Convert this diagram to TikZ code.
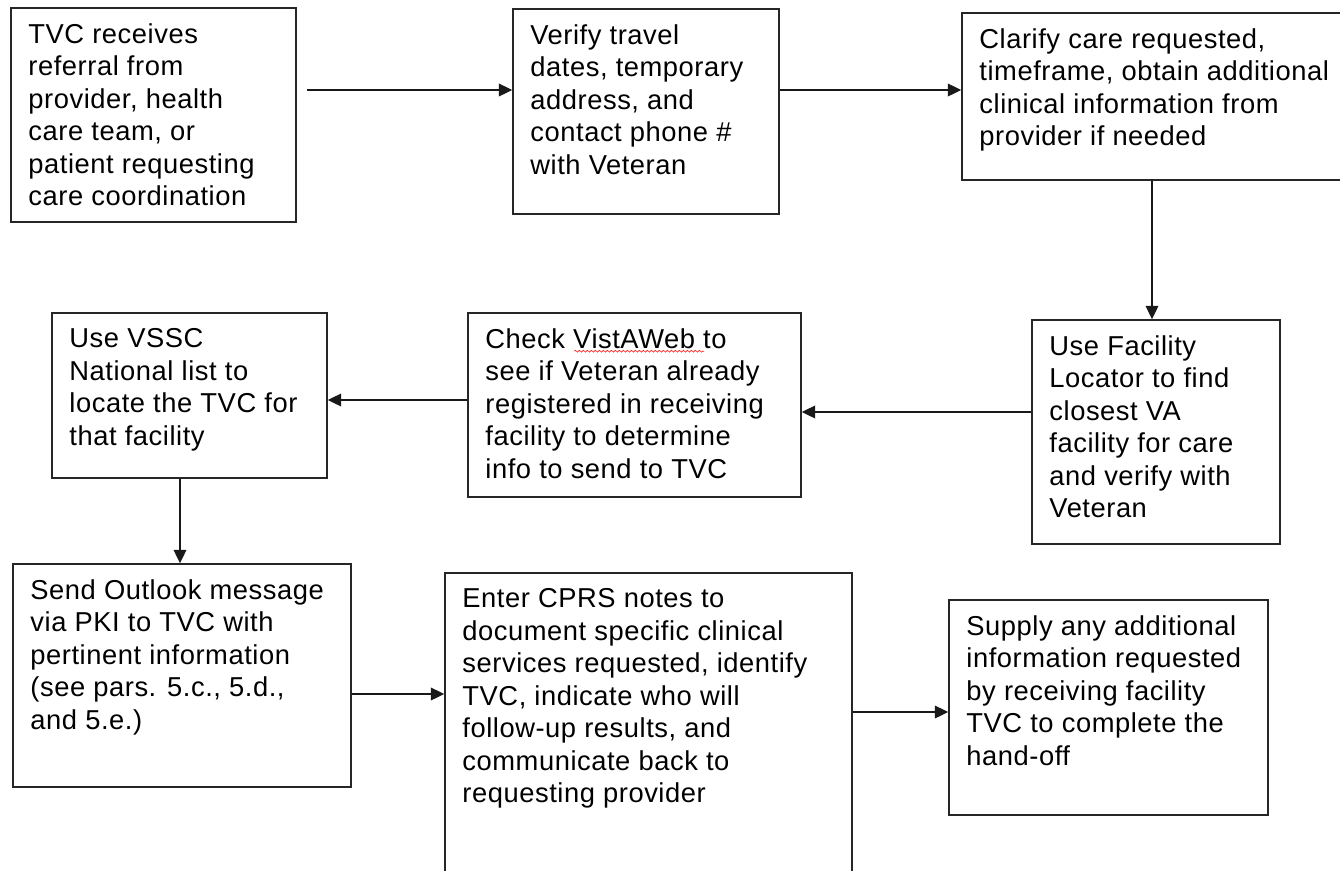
\documentclass[tikz,border=0pt]{standalone}
\usepackage{fontspec}
\setmainfont{Liberation Sans}[LetterSpace=2]
\usetikzlibrary{arrows.meta,calc,fit,decorations.pathmorphing}
\begin{document}
\begin{tikzpicture}[x=0.75pt,y=-0.75pt,
  box/.style={draw=black!85, line width=1.2pt, rectangle, inner sep=0pt},
  txt/.style={anchor=north west, inner sep=0pt, align=left, font=\fontsize{20.5}{24.4}\selectfont},
  arr/.style={draw=black!90, line width=1.1pt, -{Triangle[length=10pt,width=9.5pt]}}]
\clip (0,0) rectangle (1340,871);
\fill[white] (0,0) rectangle (1340,871);
% box corners
\coordinate (p1a) at (11,8);    \coordinate (p1b) at (296,222);
\coordinate (p2a) at (513,9);   \coordinate (p2b) at (779,214);
\coordinate (p3a) at (962,13);  \coordinate (p3b) at (1352,180);
\coordinate (p4a) at (1032,320);\coordinate (p4b) at (1280,544);
\coordinate (p5a) at (468,313); \coordinate (p5b) at (801,497);
\coordinate (p6a) at (52,313);  \coordinate (p6b) at (327,478);
\coordinate (p7a) at (13,564);  \coordinate (p7b) at (351,787);
\coordinate (p8a) at (445,573); \coordinate (p8b) at (852,885);
\coordinate (p9a) at (949,600); \coordinate (p9b) at (1268,815);
\foreach \i in {1,...,9} {\node[box, fit=(p\i a)(p\i b)] (b\i) {};}
% texts
\node[txt] (t1) at ($(b1.north west)+(18,16)$) {TVC receives\\referral from\\provider, health\\care team, or\\patient requesting\\care coordination};
\node[txt] (t2) at ($(b2.north west)+(18,16)$) {Verify travel\\dates, temporary\\address, and\\contact phone \#\\with Veteran};
\node[txt] (t3) at ($(b3.north west)+(18,16)$) {Clarify care requested,\\timeframe, obtain additional\\clinical information from\\provider if needed};
\node[txt] (t4) at ($(b4.north west)+(18,16)$) {Use Facility\\Locator to find\\closest VA\\facility for care\\and verify with\\Veteran};
\node[txt] (t5) at ($(b5.north west)+(18,16)$) {Check VistAWeb to\\see if Veteran already\\registered in receiving\\facility to determine\\info to send to TVC};
\node[txt] (t6) at ($(b6.north west)+(18,16)$) {Use VSSC\\National list to\\locate the TVC for\\that facility};
\node[txt] (t7) at ($(b7.north west)+(18,16)$) {Send Outlook message\\via PKI to TVC with\\pertinent information\\(see pars. 5.c., 5.d.,\\and 5.e.)};
\node[txt] (t8) at ($(b8.north west)+(18,16)$) {Enter CPRS notes to\\document specific clinical\\services requested, identify\\TVC, indicate who will\\follow-up results, and\\communicate back to\\requesting provider};
\node[txt] (t9) at ($(b9.north west)+(18,16)$) {Supply any additional\\information requested\\by receiving facility\\TVC to complete the\\hand-off};
% spell-check squiggle
\draw[red!85, line width=0.5pt, decorate, decoration={snake, amplitude=0.7pt, segment length=3pt}]
  ($(b5.north west)+(107,39)$) -- ($(b5.north west)+(237,39)$);
% connectors
\coordinate (a1) at (307,90);
\draw[arr] (a1) -- (a1 -| b2.west);
\draw[arr] (a1 -| b2.east) -- (a1 -| b3.west);
\coordinate (c3) at (1152,0);
\draw[arr] (c3 |- b3.south) -- (c3 |- b4.north);
\coordinate (c4) at (0,412);
\draw[arr] (c4 -| b4.west) -- (c4 -| b5.east);
\coordinate (c5) at (0,400);
\draw[arr] (c5 -| b5.west) -- (c5 -| b6.east);
\coordinate (c6) at (180,0);
\draw[arr] (c6 |- b6.south) -- (c6 |- b7.north);
\coordinate (c7) at (0,694);
\draw[arr] (c7 -| b7.east) -- (c7 -| b8.west);
\coordinate (c8) at (0,712);
\draw[arr] (c8 -| b8.east) -- (c8 -| b9.west);
\end{tikzpicture}
\end{document}
